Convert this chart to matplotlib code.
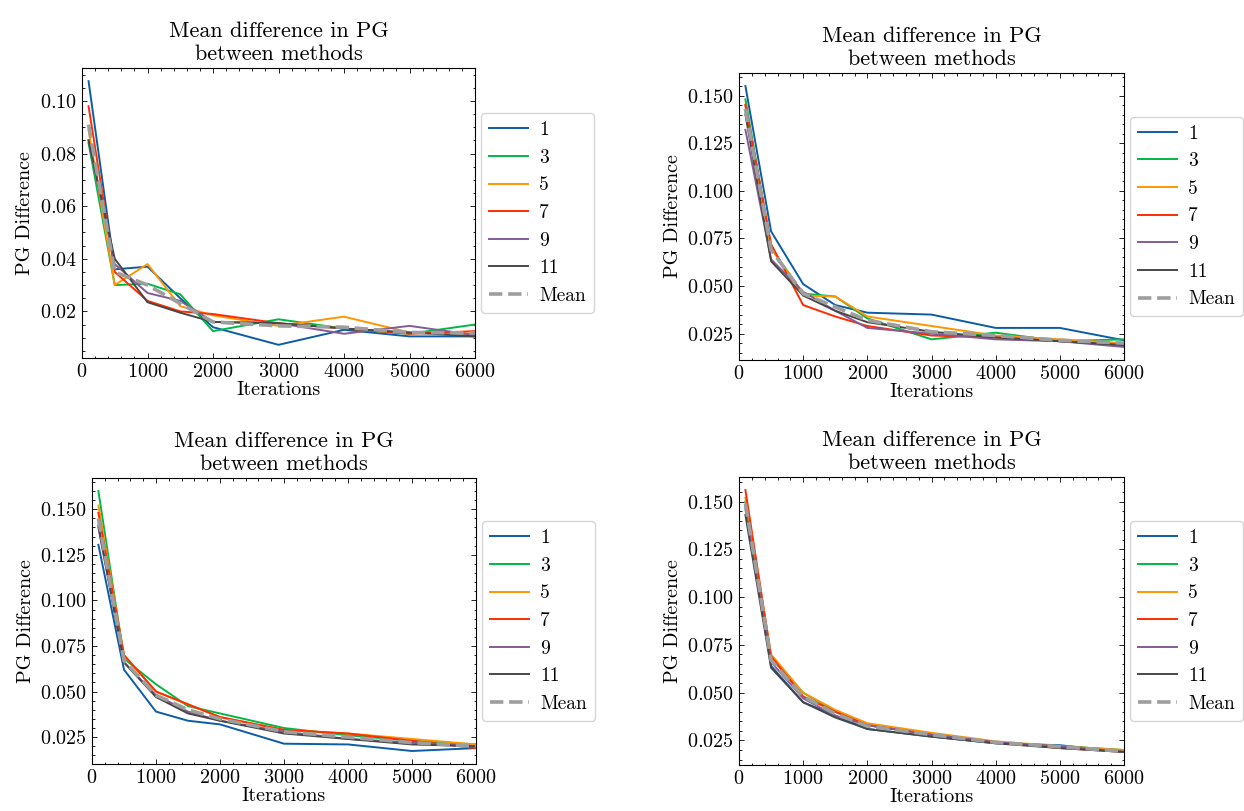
import matplotlib
matplotlib.use("Agg")
import matplotlib.pyplot as plt

plt.rcParams.update({
    "font.family": "cmr10",
    "mathtext.fontset": "cm",
    "axes.formatter.use_mathtext": True,
    "font.size": 14.5,
    "xtick.direction": "in",
    "ytick.direction": "in",
    "xtick.top": True,
    "ytick.right": True,
    "xtick.minor.visible": True,
    "ytick.minor.visible": True,
    "xtick.major.size": 3.5,
    "ytick.major.size": 3.5,
    "xtick.minor.size": 1.8,
    "ytick.minor.size": 1.8,
    "xtick.major.width": 0.6,
    "ytick.major.width": 0.6,
    "xtick.minor.width": 0.6,
    "ytick.minor.width": 0.6,
    "axes.linewidth": 0.8,
})

iterations = [100, 500, 1000, 1500, 2000, 3000, 4000, 5000, 6000]
labels = ["1", "3", "5", "7", "9", "11"]
colors = ["#0C5DA5", "#00B945", "#FF9500", "#FF2C00", "#845B97", "#474747"]
mean_color = "#9e9e9e"

# Panel 1 (top-left)
p1_series = [
    [0.1075, 0.036, 0.037, 0.025, 0.014, 0.0073, 0.013, 0.0105, 0.0105],
    [0.084, 0.030, 0.0305, 0.0265, 0.0125, 0.017, 0.0135, 0.0115, 0.015],
    [0.089, 0.030, 0.038, 0.022, 0.0185, 0.0145, 0.018, 0.012, 0.0115],
    [0.098, 0.035, 0.024, 0.020, 0.019, 0.0155, 0.0135, 0.0115, 0.0125],
    [0.085, 0.038, 0.027, 0.024, 0.016, 0.0155, 0.0115, 0.0145, 0.011],
    [0.085, 0.040, 0.0235, 0.0195, 0.016, 0.0155, 0.0135, 0.012, 0.0105],
]
p1_mean = [0.091, 0.035, 0.030, 0.023, 0.016, 0.0145, 0.014, 0.012, 0.0118]

# Panel 2 (top-right)
p2_series = [
    [0.155, 0.0787, 0.051, 0.040, 0.036, 0.035, 0.028, 0.028, 0.0215],
    [0.148, 0.070, 0.046, 0.0445, 0.033, 0.022, 0.0255, 0.021, 0.022],
    [0.145, 0.070, 0.045, 0.0445, 0.034, 0.029, 0.024, 0.022, 0.020],
    [0.145, 0.072, 0.040, 0.034, 0.029, 0.024, 0.023, 0.021, 0.019],
    [0.132, 0.064, 0.047, 0.037, 0.028, 0.025, 0.022, 0.021, 0.018],
    [0.140, 0.063, 0.045, 0.037, 0.031, 0.026, 0.023, 0.021, 0.019],
]
p2_mean = [0.143, 0.069, 0.046, 0.039, 0.032, 0.026, 0.024, 0.0215, 0.020]

# Panel 3 (bottom-left)
p3_series = [
    [0.1305, 0.062, 0.039, 0.034, 0.032, 0.0214, 0.021, 0.0174, 0.019],
    [0.160, 0.068, 0.054, 0.042, 0.038, 0.030, 0.026, 0.023, 0.021],
    [0.152, 0.070, 0.050, 0.043, 0.036, 0.029, 0.027, 0.024, 0.021],
    [0.148, 0.070, 0.050, 0.043, 0.036, 0.029, 0.027, 0.023, 0.019],
    [0.140, 0.066, 0.048, 0.039, 0.034, 0.028, 0.024, 0.022, 0.020],
    [0.141, 0.066, 0.047, 0.038, 0.034, 0.027, 0.024, 0.021, 0.020],
]
p3_mean = [0.145, 0.067, 0.048, 0.040, 0.035, 0.028, 0.025, 0.022, 0.020]

# Panel 4 (bottom-right)
p4_series = [
    [0.148, 0.064, 0.045, 0.038, 0.031, 0.027, 0.0235, 0.0225, 0.019],
    [0.150, 0.068, 0.050, 0.040, 0.033, 0.028, 0.024, 0.022, 0.020],
    [0.152, 0.070, 0.050, 0.041, 0.034, 0.029, 0.0245, 0.022, 0.020],
    [0.156, 0.069, 0.048, 0.040, 0.033, 0.028, 0.024, 0.021, 0.019],
    [0.146, 0.066, 0.047, 0.038, 0.033, 0.028, 0.024, 0.022, 0.019],
    [0.143, 0.063, 0.045, 0.037, 0.031, 0.027, 0.0235, 0.021, 0.019],
]
p4_mean = [0.149, 0.067, 0.048, 0.039, 0.0325, 0.028, 0.024, 0.0217, 0.0193]

panels = [(p1_series, p1_mean), (p2_series, p2_mean),
          (p3_series, p3_mean), (p4_series, p4_mean)]

W, H = 1244, 811
# pixel boxes: left, right, top, bottom
boxes = [(82, 475, 68, 358), (739, 1124, 73, 360),
         (92, 476, 478, 764), (739, 1124, 477, 765)]

fig = plt.figure(figsize=(W / 100, H / 100), dpi=100)

for (series, mean), (l, r, t, b) in zip(panels, boxes):
    ax = fig.add_axes([l / W, (H - b) / H, (r - l) / W, (b - t) / H])
    for vals, lab, col in zip(series, labels, colors):
        ax.plot(iterations, vals, color=col, lw=1.4, label=lab)
    ax.plot(iterations, mean, color=mean_color, lw=2.6, ls="--", label="Mean")
    ax.set_xlim(0, 6000)
    ax.set_xlabel("Iterations", labelpad=0)
    ax.set_ylabel("PG Difference")
    ax.set_title("Mean difference in PG\nbetween methods", pad=6, fontsize=16)
    ax.legend(loc="center left", bbox_to_anchor=(1.0, 0.5), fontsize=14,
              labelspacing=0.5, borderaxespad=0.3, handletextpad=0.6)

fig.savefig("out.png", dpi=100)
